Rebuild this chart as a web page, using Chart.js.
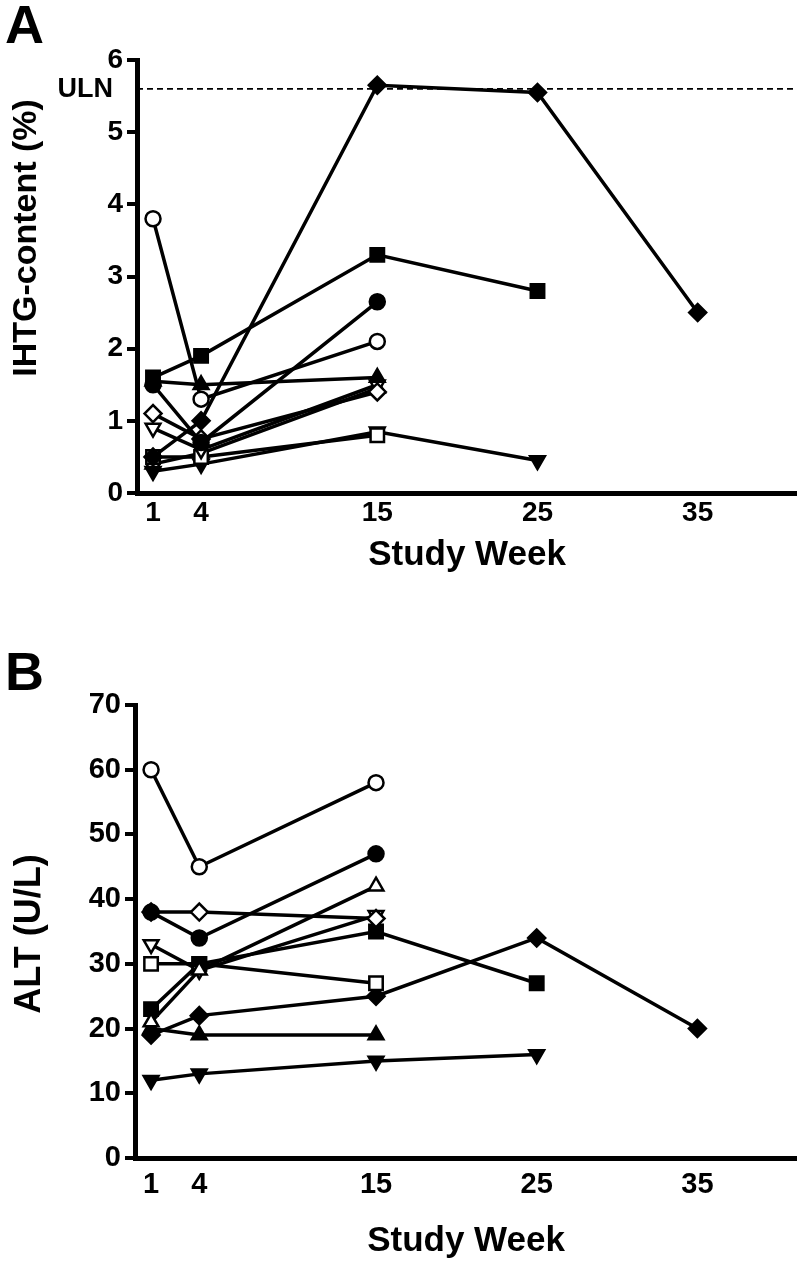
<!DOCTYPE html>
<html>
<head>
<meta charset="utf-8">
<script src="https://cdn.jsdelivr.net/npm/chart.js@4.4.0/dist/chart.umd.min.js"></script>
<style>
  html, body { margin: 0; padding: 0; background: #fff; }
  body { width: 797px; height: 1270px; position: relative; overflow: hidden; }
  canvas { position: absolute; left: 0; }
  .panel { position: absolute; left: 5px; font: bold 54px "Liberation Sans", Arial, sans-serif; color: #000; }
</style>
</head>
<body>
<div class="panel" style="top:-7px">A</div>
<canvas id="chart-a" width="797" height="590" style="top:0"></canvas>
<div class="panel" style="top:640px">B</div>
<canvas id="chart-b" width="797" height="630" style="top:640px"></canvas>
<script>
/* study weeks shown on the x axis */
var weekTicks = [1, 4, 15, 25, 35];
var X_MAX = 41.2;

/* panel A: IHTG-content (%) per subject */
var ihtgWeeks = {
  openCircle:   [1, 4, 15],
  fillCircle:   [1, 4, 15],
  fillSquare:   [1, 4, 15, 25],
  fillDiamond:  [1, 4, 15, 25, 35],
  fillTriangle: [1, 4, 15],
  openDiamond:  [1, 4, 15],
  openTriDown:  [1, 4, 15],
  openSquare:   [1, 4, 15],
  fillTriDown:  [1, 4, 15, 25],
  openTriangle: [1, 4, 15]
};
var ihtgOpenCircle   = [3.8, 1.3, 2.1];
var ihtgFillCircle   = [1.5, 0.7, 2.65];
var ihtgFillSquare   = [1.6, 1.9, 3.3, 2.8];
var ihtgFillDiamond  = [0.5, 1.0, 5.65, 5.55, 2.5];
var ihtgFillTriangle = [1.55, 1.5, 1.6];
var ihtgOpenDiamond  = [1.1, 0.75, 1.4];
var ihtgOpenTriDown  = [0.9, 0.6, 1.5];
var ihtgOpenSquare   = [0.5, 0.5, 0.8];
var ihtgFillTriDown  = [0.3, 0.4, 0.85, 0.45];
var ihtgOpenTriangle = [0.4, 0.55, 1.45];
var ULN = 5.6;
var ihtgTicks = [0, 1, 2, 3, 4, 5, 6];

/* panel B: ALT (U/L) per subject */
var altWeeks = {
  openCircle:   [1, 4, 15],
  fillCircle:   [1, 4, 15],
  openDiamond:  [1, 4, 15],
  openTriangle: [1, 4, 15],
  openTriDown:  [1, 4, 15],
  fillSquare:   [1, 4, 15, 25],
  openSquare:   [1, 4, 15],
  fillDiamond:  [1, 4, 15, 25, 35],
  fillTriangle: [1, 4, 15],
  fillTriDown:  [1, 4, 15, 25]
};
var altOpenCircle   = [60, 45, 58];
var altFillCircle   = [38, 34, 47];
var altOpenDiamond  = [38, 38, 37];
var altOpenTriangle = [21, 29, 42];
var altOpenTriDown  = [33, 29, 37.5];
var altFillSquare   = [23, 30, 35, 27];
var altOpenSquare   = [30, 30, 27];
var altFillDiamond  = [19, 22, 25, 34, 20];
var altFillTriangle = [20, 19, 19];
var altFillTriDown  = [12, 13, 15, 16];
var altTicks = [0, 10, 20, 30, 40, 50, 60, 70];

var INK = '#000000';
var FONT = '"Liberation Sans", Arial, sans-serif';

var markers = {
  openCircle:   { style: 'circle',   fill: false, r: 7.5 },
  fillCircle:   { style: 'circle',   fill: true,  r: 7.5 },
  fillSquare:   { style: 'rect',     fill: true,  r: 9.5 },
  openSquare:   { style: 'rect',     fill: false, r: 9.5 },
  fillDiamond:  { style: 'rectRot',  fill: true,  r: 8.5 },
  openDiamond:  { style: 'rectRot',  fill: false, r: 8.5 },
  fillTriangle: { style: 'triangle', fill: true,  r: 8.5 },
  openTriangle: { style: 'triangle', fill: false, r: 8.5 },
  fillTriDown:  { style: 'triangle', fill: true,  r: 8.5, rot: 180 },
  openTriDown:  { style: 'triangle', fill: false, r: 8.5, rot: 180 }
};

function series(key, weeks, values) {
  var m = markers[key];
  return {
    data: weeks.map(function(w, i) { return { x: w, y: values[i] }; }),
    borderColor: INK,
    borderWidth: 3.5,
    pointStyle: m.style,
    pointRadius: m.r,
    pointRotation: m.rot || 0,
    pointBackgroundColor: m.fill ? INK : '#ffffff',
    pointBorderColor: INK,
    pointBorderWidth: 2.5,
    pointHoverRadius: m.r
  };
}

/* rotated y title placed freely, and the ULN tag next to the axis */
var sideText = {
  id: 'sideText',
  afterDraw: function(chart, args, opts) {
    var ctx = chart.ctx;
    ctx.save();
    ctx.fillStyle = INK;
    ctx.font = 'bold ' + opts.size + 'px ' + FONT;
    ctx.textAlign = 'center';
    ctx.textBaseline = 'middle';
    ctx.translate(opts.x, opts.y);
    ctx.rotate(-Math.PI / 2);
    ctx.fillText(opts.text, 0, 0);
    ctx.restore();
    if (opts.uln) {
      var y = chart.scales.y.getPixelForValue(ULN);
      ctx.save();
      ctx.font = 'bold 27px ' + FONT;
      ctx.fillStyle = INK;
      ctx.textAlign = 'right';
      ctx.textBaseline = 'middle';
      ctx.fillText('ULN', 113, y + 1);
      ctx.restore();
    }
  }
};

function makePanel(id, datasets, yTicks, side, p) {
  return new Chart(document.getElementById(id), {
    type: 'line',
    data: { datasets: datasets },
    plugins: [sideText],
    options: {
      responsive: false,
      animation: false,
      events: [],
      layout: { autoPadding: false, padding: { top: p.top, right: 0, left: 0, bottom: 0 } },
      plugins: { legend: { display: false }, tooltip: { enabled: false }, sideText: side },
      scales: {
        x: {
          type: 'linear',
          min: 0, max: X_MAX,
          afterBuildTicks: function(s) { s.ticks = weekTicks.map(function(v) { return { value: v }; }); },
          afterFit: function(s) { s.height = p.xHeight; s.paddingLeft = 0; s.paddingRight = 0; },
          grid: { display: false, drawTicks: false },
          border: { display: true, color: INK, width: 5 },
          ticks: { color: INK, padding: p.xPad, font: { family: FONT, size: p.tick, weight: 'bold' } },
          title: { display: true, text: 'Study Week', color: INK, padding: p.titlePad,
                   font: { family: FONT, size: 35, weight: 'bold' } }
        },
        y: {
          min: yTicks[0], max: yTicks[yTicks.length - 1],
          afterBuildTicks: function(s) { s.ticks = yTicks.map(function(v) { return { value: v }; }); },
          afterFit: function(s) { s.width = p.yWidth; },
          grid: { drawOnChartArea: false, drawTicks: true, tickLength: 10, color: INK, lineWidth: 4 },
          border: { display: true, color: INK, width: 5 },
          ticks: { color: INK, padding: 4, font: { family: FONT, size: p.tick, weight: 'bold' } },
          title: { display: false }
        }
      }
    }
  });
}

var dsA = [
  series('openCircle',   ihtgWeeks.openCircle,   ihtgOpenCircle),
  series('fillCircle',   ihtgWeeks.fillCircle,   ihtgFillCircle),
  series('fillSquare',   ihtgWeeks.fillSquare,   ihtgFillSquare),
  series('fillDiamond',  ihtgWeeks.fillDiamond,  ihtgFillDiamond),
  series('fillTriangle', ihtgWeeks.fillTriangle, ihtgFillTriangle),
  series('openDiamond',  ihtgWeeks.openDiamond,  ihtgOpenDiamond),
  series('openTriDown',  ihtgWeeks.openTriDown,  ihtgOpenTriDown),
  series('openSquare',   ihtgWeeks.openSquare,   ihtgOpenSquare),
  series('fillTriDown',  ihtgWeeks.fillTriDown,  ihtgFillTriDown),
  series('openTriangle', ihtgWeeks.openTriangle, ihtgOpenTriangle),
  {
    data: [{ x: 0, y: ULN }, { x: X_MAX, y: ULN }],
    borderColor: INK, borderWidth: 1.8, borderDash: [6, 4], pointRadius: 0
  }
];

var dsB = [
  series('openCircle',   altWeeks.openCircle,   altOpenCircle),
  series('fillCircle',   altWeeks.fillCircle,   altFillCircle),
  series('openDiamond',  altWeeks.openDiamond,  altOpenDiamond),
  series('openTriangle', altWeeks.openTriangle, altOpenTriangle),
  series('openTriDown',  altWeeks.openTriDown,  altOpenTriDown),
  series('fillSquare',   altWeeks.fillSquare,   altFillSquare),
  series('openSquare',   altWeeks.openSquare,   altOpenSquare),
  series('fillDiamond',  altWeeks.fillDiamond,  altFillDiamond),
  series('fillTriangle', altWeeks.fillTriangle, altFillTriangle),
  series('fillTriDown',  altWeeks.fillTriDown,  altFillTriDown)
];

makePanel('chart-a', dsA, ihtgTicks,
  { text: 'IHTG-content (%)', x: 27, y: 238, size: 34, uln: true },
  { top: 60, xHeight: 97, yWidth: 137, tick: 28, xPad: 3, titlePad: 14 });
makePanel('chart-b', dsB, altTicks,
  { text: 'ALT (U/L)', x: 30, y: 294, size: 36, uln: false },
  { top: 65, xHeight: 112, yWidth: 135, tick: 29, xPad: 10, titlePad: 8 });
</script>
</body>
</html>
